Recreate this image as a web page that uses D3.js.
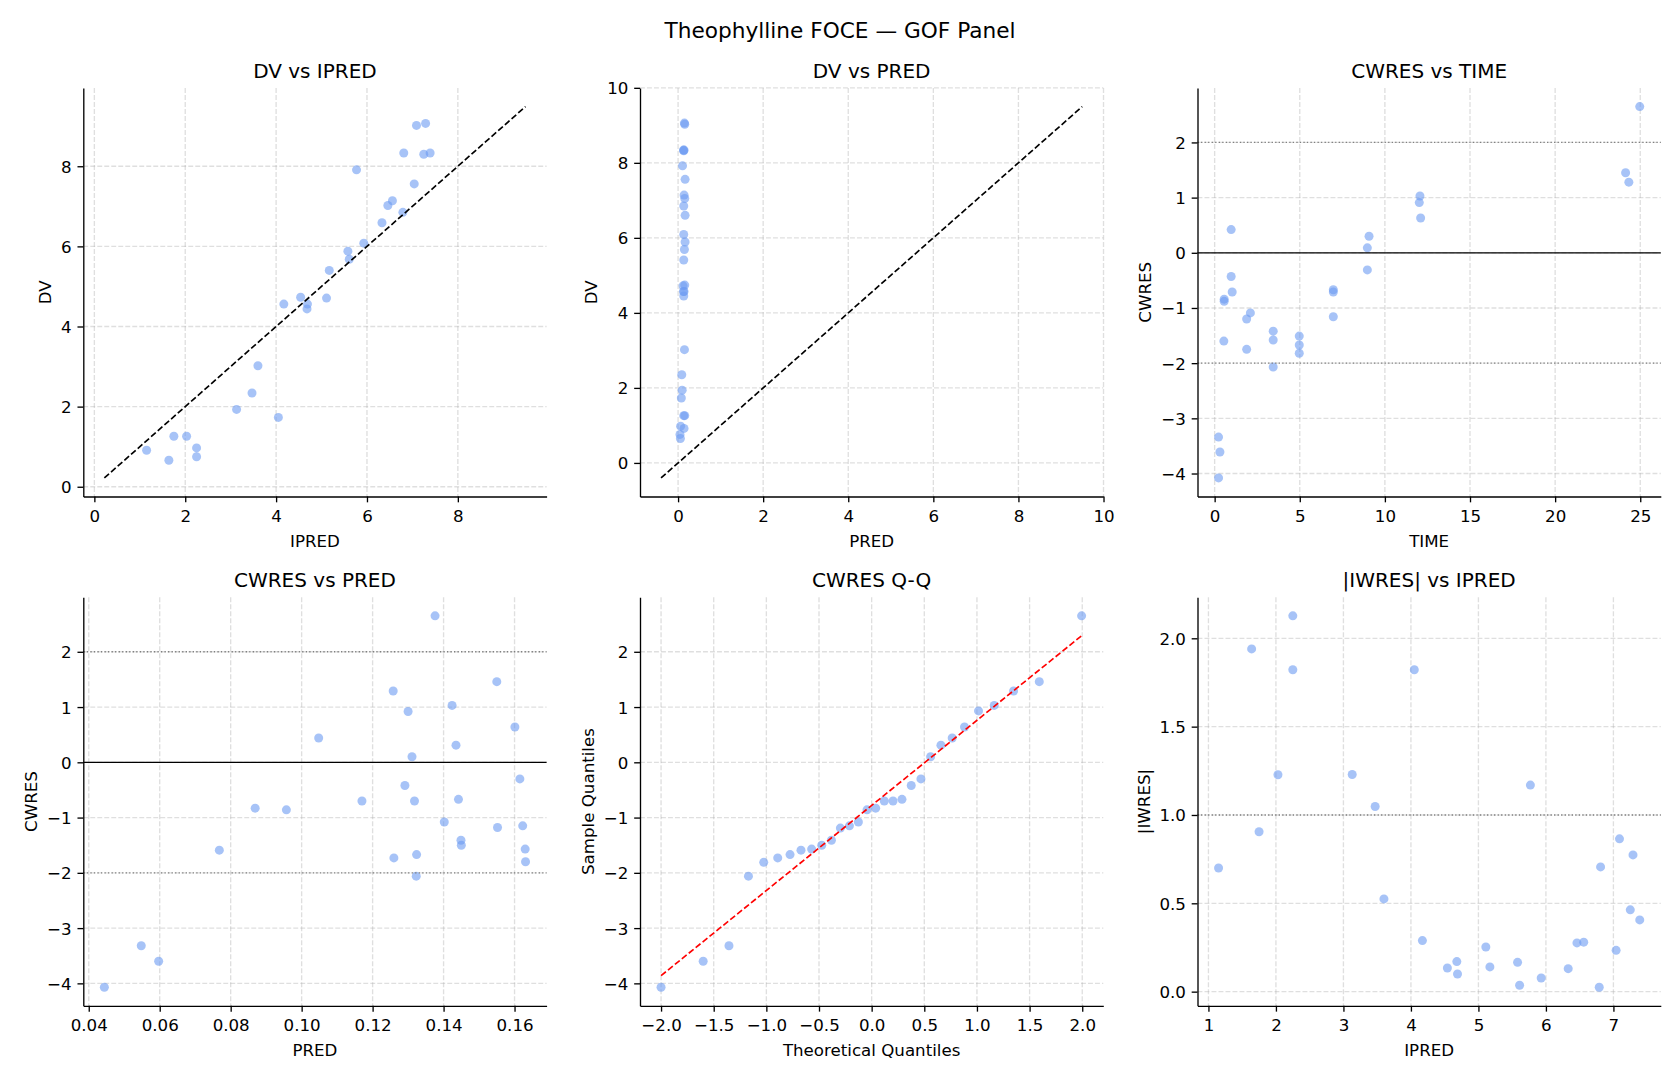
<!DOCTYPE html>
<html>
<head>
<meta charset="utf-8">
<script src="https://cdn.jsdelivr.net/npm/d3@7"></script>
<style>
body { margin: 0; background: #fff; }
svg text { font-family: 'DejaVu Sans', sans-serif; fill: #000; }
</style>
</head>
<body>
<svg id="fig" width="1680" height="1080"></svg>
<script>
'use strict'

// observations, sorted by IPRED
const ipred = [1.15, 1.64, 1.75, 2.03, 2.25, 2.25, 3.13, 3.47, 3.60, 4.05, 4.17, 4.54, 4.68, 4.69, 5.11, 5.17, 5.58, 5.61, 5.77, 5.93, 6.33, 6.46, 6.56, 6.79, 6.81, 7.04, 7.09, 7.25, 7.29, 7.39]
const dv = [0.91, 0.66, 1.26, 1.26, 0.97, 0.75, 1.93, 2.34, 3.02, 1.73, 4.56, 4.73, 4.44, 4.56, 4.71, 5.40, 5.88, 5.68, 7.91, 6.08, 6.59, 7.02, 7.14, 6.85, 8.33, 7.56, 9.02, 8.30, 9.07, 8.33]
const absIwres = [0.70, 1.94, 0.905, 1.228, 1.822, 2.127, 1.229, 1.048, 0.525, 1.822, 0.289, 0.134, 0.17, 0.10, 0.253, 0.14, 0.166, 0.036, 1.169, 0.077, 0.13, 0.276, 0.28, 0.025, 0.706, 0.234, 0.865, 0.463, 0.774, 0.406]

// DV vs PRED
const dvSorted = [0.65, 0.76, 0.92, 0.98, 1.26, 1.26, 1.73, 1.94, 2.35, 3.02, 4.45, 4.57, 4.57, 4.72, 4.74, 5.41, 5.69, 5.89, 6.09, 6.60, 6.85, 7.05, 7.14, 7.56, 7.92, 8.32, 8.34, 8.34, 9.03, 9.06]
const predForDv = [0.0548, 0.0444, 0.140, 0.0597, 0.157, 0.133, 0.0768, 0.0957, 0.0869, 0.150, 0.133, 0.140, 0.126, 0.117, 0.157, 0.133, 0.149, 0.165, 0.133, 0.165, 0.133, 0.157, 0.141, 0.165, 0.1048, 0.133, 0.141, 0.126, 0.157, 0.149]

// CWRES vs TIME
const time = [24.97, 24.14, 24.33, 12.06, 12.02, 12.10, 9.07, 8.97, 8.97, 0.97, 0.97, 1.03, 0.56, 0.56, 0.54, 2.10, 1.88, 1.88, 3.44, 3.44, 3.44, 4.97, 4.97, 4.97, 6.97, 6.97, 6.97, 0.23, 0.31, 0.23]
const cwresByTime = [2.65, 1.45, 1.28, 1.03, 0.91, 0.63, 0.30, 0.09, -0.31, 0.42, -0.43, -0.71, -0.84, -0.88, -1.60, -1.09, -1.20, -1.75, -1.42, -1.58, -2.07, -1.51, -1.67, -1.82, -0.67, -0.71, -1.16, -3.34, -3.61, -4.08]

// CWRES vs PRED
const pred = [0.0444, 0.0548, 0.0597, 0.0768, 0.0869, 0.0957, 0.1048, 0.117, 0.1258, 0.126, 0.1291, 0.130, 0.1311, 0.1318, 0.1324, 0.1323, 0.1376, 0.1402, 0.1424, 0.1435, 0.1442, 0.1449, 0.145, 0.155, 0.1552, 0.1601, 0.1615, 0.1623, 0.163, 0.1631]
const cwresByPred = [-4.07, -3.32, -3.60, -1.59, -0.83, -0.86, 0.44, -0.70, 1.29, -1.73, -0.42, 0.92, 0.10, -0.70, -1.67, -2.06, 2.65, -1.08, 1.03, 0.31, -0.67, -1.41, -1.50, 1.46, -1.18, 0.64, -0.30, -1.15, -1.57, -1.80]

// Q-Q
const qqTheo = [-2.00, -1.60, -1.355, -1.17, -1.025, -0.892, -0.775, -0.671, -0.570, -0.474, -0.382, -0.297, -0.211, -0.126, -0.044, 0.038, 0.120, 0.203, 0.288, 0.376, 0.468, 0.560, 0.658, 0.765, 0.882, 1.015, 1.164, 1.348, 1.592, 1.994]
const qqSample = [-4.07, -3.60, -3.32, -2.06, -1.81, -1.73, -1.67, -1.59, -1.57, -1.50, -1.41, -1.19, -1.15, -1.08, -0.86, -0.83, -0.70, -0.70, -0.67, -0.42, -0.30, 0.10, 0.31, 0.44, 0.64, 0.93, 1.03, 1.29, 1.46, 2.65]
const qqLineX = [-2.0, 2.0]
const qqLineY = [-3.86, 2.30]

// identity lines
const idLineIpred = [0.22, 9.49]
const idLinePred = [-0.40, 9.50]

// ticks
const ticks0to8 = [0, 2, 4, 6, 8]
const ticks0to10 = [0, 2, 4, 6, 8, 10]
const ticksTime = [0, 5, 10, 15, 20, 25]
const ticksCwres = [-4, -3, -2, -1, 0, 1, 2]
const ticksPred = [0.04, 0.06, 0.08, 0.10, 0.12, 0.14, 0.16]
const ticksQQ = [-2.0, -1.5, -1.0, -0.5, 0.0, 0.5, 1.0, 1.5, 2.0]
const ticksIpred = [1, 2, 3, 4, 5, 6, 7]
const ticksIwres = [0.0, 0.5, 1.0, 1.5, 2.0]

const svg = d3.select('#fig')
const W = 463.3
const H = 408.5
const colX = [83.3, 640, 1197.5]
const rowY = [88, 597.3]
const FS = 16.67

svg.append('text')
  .attr('x', 840).attr('y', 38.3)
  .attr('text-anchor', 'middle')
  .attr('font-size', 21.67)
  .text('Theophylline FOCE — GOF Panel')

function pad (vals) {
  const lo = d3.min(vals)
  const hi = d3.max(vals)
  const m = (hi - lo) * 0.05
  return [lo - m, hi + m]
}

function panel (o) {
  const g = svg.append('g').attr('transform', `translate(${colX[o.col]},${rowY[o.row]})`)
  const x = d3.scaleLinear().domain(pad(o.xExt)).range([0, W])
  const y = d3.scaleLinear().domain(pad(o.yExt)).range([H, 0])

  g.selectAll('.gx').data(o.xTicks).enter().append('line')
    .attr('x1', d => x(d)).attr('x2', d => x(d))
    .attr('y1', 0).attr('y2', H)
    .attr('stroke', '#b0b0b0').attr('stroke-opacity', 0.4)
    .attr('stroke-width', 1.33).attr('stroke-dasharray', '4.9,2.1')
  g.selectAll('.gy').data(o.yTicks).enter().append('line')
    .attr('y1', d => y(d)).attr('y2', d => y(d))
    .attr('x1', 0).attr('x2', W)
    .attr('stroke', '#b0b0b0').attr('stroke-opacity', 0.4)
    .attr('stroke-width', 1.33).attr('stroke-dasharray', '4.9,2.1')

  g.selectAll('circle').data(d3.range(o.xs.length)).enter().append('circle')
    .attr('cx', i => x(o.xs[i]))
    .attr('cy', i => y(o.ys[i]))
    .attr('r', 4.5)
    .attr('fill', '#6d9bf2')
    .attr('fill-opacity', 0.6)

  ;(o.hlines || []).forEach(h => {
    g.append('line')
      .attr('x1', 0).attr('x2', W)
      .attr('y1', y(h.v)).attr('y2', y(h.v))
      .attr('stroke', h.solid ? '#000' : '#808080')
      .attr('stroke-width', 1.33)
      .attr('stroke-dasharray', h.solid ? null : '1.33,2.2')
  })

  if (o.line) {
    g.append('line')
      .attr('x1', x(o.line.x[0])).attr('y1', y(o.line.y[0]))
      .attr('x2', x(o.line.x[1])).attr('y2', y(o.line.y[1]))
      .attr('stroke', o.line.color)
      .attr('stroke-width', 1.67)
      .attr('stroke-dasharray', '6.2,2.7')
  }

  const ax = g.append('g').attr('transform', `translate(0,${H})`)
    .call(d3.axisBottom(x).tickValues(o.xTicks).tickFormat(o.xFmt)
      .tickSize(5.83).tickSizeOuter(0).tickPadding(8))
  const ay = g.append('g')
    .call(d3.axisLeft(y).tickValues(o.yTicks).tickFormat(o.yFmt)
      .tickSize(5.83).tickSizeOuter(0).tickPadding(5.8))
  ;[ax, ay].forEach(a => {
    a.attr('font-size', FS).attr('font-family', 'DejaVu Sans, sans-serif')
    a.selectAll('path, line').attr('stroke', '#000').attr('stroke-width', 1.33)
  })
  ay.selectAll('text').attr('dy', '0.36em')

  let minX = 0
  ay.selectAll('text').each(function () {
    minX = Math.min(minX, this.getBBox().x)
  })

  g.append('text')
    .attr('x', W / 2).attr('y', -10)
    .attr('text-anchor', 'middle')
    .attr('font-size', 20)
    .text(o.title)
  g.append('text')
    .attr('x', W / 2).attr('y', H + 50)
    .attr('text-anchor', 'middle')
    .attr('font-size', FS)
    .text(o.xLabel)
  g.append('text')
    .attr('transform', `translate(${minX - 6.67 - 3.2},${H / 2}) rotate(-90)`)
    .attr('text-anchor', 'middle')
    .attr('font-size', FS)
    .text(o.yLabel)
}

const fmtInt = d3.format('d')

panel({
  col: 0, row: 0, title: 'DV vs IPRED', xLabel: 'IPRED', yLabel: 'DV',
  xs: ipred, ys: dv,
  xExt: ipred.concat(idLineIpred), yExt: dv.concat(idLineIpred),
  xTicks: ticks0to8, yTicks: ticks0to8, xFmt: fmtInt, yFmt: fmtInt,
  line: { x: idLineIpred, y: idLineIpred, color: '#000' }
})

panel({
  col: 1, row: 0, title: 'DV vs PRED', xLabel: 'PRED', yLabel: 'DV',
  xs: predForDv, ys: dvSorted,
  xExt: predForDv.concat(idLinePred), yExt: dvSorted.concat(idLinePred),
  xTicks: ticks0to10, yTicks: ticks0to10, xFmt: fmtInt, yFmt: fmtInt,
  line: { x: idLinePred, y: idLinePred, color: '#000' }
})

panel({
  col: 2, row: 0, title: 'CWRES vs TIME', xLabel: 'TIME', yLabel: 'CWRES',
  xs: time, ys: cwresByTime,
  xExt: time, yExt: cwresByTime,
  xTicks: ticksTime, yTicks: ticksCwres, xFmt: fmtInt, yFmt: fmtInt,
  hlines: [{ v: 0, solid: true }, { v: 2 }, { v: -2 }]
})

panel({
  col: 0, row: 1, title: 'CWRES vs PRED', xLabel: 'PRED', yLabel: 'CWRES',
  xs: pred, ys: cwresByPred,
  xExt: pred, yExt: cwresByPred,
  xTicks: ticksPred, yTicks: ticksCwres, xFmt: d3.format('.2f'), yFmt: fmtInt,
  hlines: [{ v: 0, solid: true }, { v: 2 }, { v: -2 }]
})

panel({
  col: 1, row: 1, title: 'CWRES Q-Q', xLabel: 'Theoretical Quantiles', yLabel: 'Sample Quantiles',
  xs: qqTheo, ys: qqSample,
  xExt: qqTheo.concat(qqLineX), yExt: qqSample.concat(qqLineY),
  xTicks: ticksQQ, yTicks: ticksCwres, xFmt: d3.format('.1f'), yFmt: fmtInt,
  line: { x: qqLineX, y: qqLineY, color: '#ff0000' }
})

panel({
  col: 2, row: 1, title: '|IWRES| vs IPRED', xLabel: 'IPRED', yLabel: '|IWRES|',
  xs: ipred, ys: absIwres,
  xExt: ipred, yExt: absIwres,
  xTicks: ticksIpred, yTicks: ticksIwres, xFmt: fmtInt, yFmt: d3.format('.1f'),
  hlines: [{ v: 1.0 }]
})
</script>
</body>
</html>
